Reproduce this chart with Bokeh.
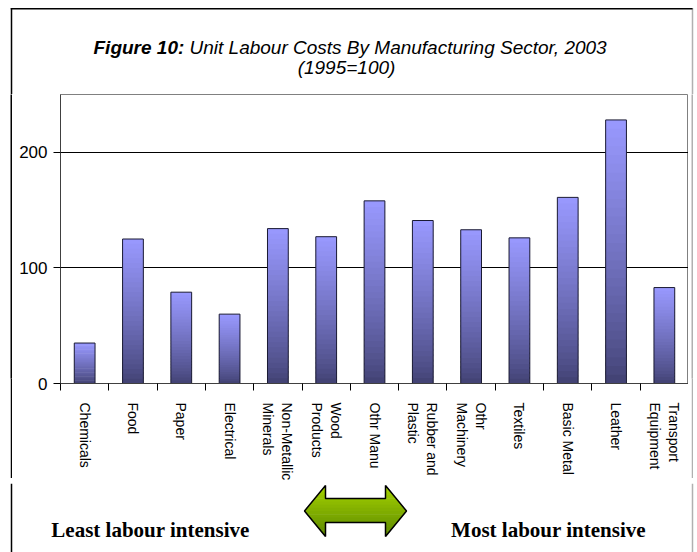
from bokeh.plotting import figure
from bokeh.models import Range1d, FixedTicker, Label
from bokeh.layouts import column, row
from bokeh.embed import file_html
from bokeh.resources import INLINE
import numpy as np

# ---- data ----
categories = ["Chemicals", "Food", "Paper", "Electrical", "Non-Metallic\nMinerals",
              "Wood\nProducts", "Othr Manu", "Rubber and\nPlastic", "Othr\nMachinery",
              "Textiles", "Basic Metal", "Leather", "Transport\nEquipment"]
values = [35, 125, 79, 60, 134, 127, 158, 141, 133, 126, 161, 228, 83]
y_ticks = [0, 100, 200]

title_bold = "Figure 10:"
title_rest = "Unit Labour Costs By Manufacturing Sector, 2003"
subtitle = "(1995=100)"
left_note = "Least labour intensive"
right_note = "Most labour intensive"

SANS = "Liberation Sans"
SERIF = "Liberation Serif"
BORDER = "black"
BORDER_R = "#b0b0b0"

n = len(categories)
centers = [i + 0.5 for i in range(n)]
vals = np.array(values, dtype=float)


def blank(w, h, fill="white"):
    f = figure(width=w, height=h, x_range=Range1d(0, w), y_range=Range1d(h, 0),
               output_backend="svg", toolbar_location=None,
               x_axis_type=None, y_axis_type=None,
               min_border_left=0, min_border_right=0,
               min_border_top=0, min_border_bottom=0)
    f.outline_line_color = None
    f.xgrid.grid_line_color = None
    f.ygrid.grid_line_color = None
    f.background_fill_color = fill
    f.border_fill_color = fill
    return f


def txt(f, x, y, text, align, font, size, style):
    f.add_layout(Label(x=x, y=y, text=text, text_align=align,
                       text_baseline="alphabetic", text_font=font,
                       text_font_size=size, text_font_style=style,
                       text_color="black"))


W = 697
XL, XR = 11, 692      # chart-area border (left, right)
YT = 8.3              # chart-area border (top)
ML = 48               # y-axis panel
FW = 628              # frame width


def vbars(f, h, y0=0):
    f.quad(left=[XL - 0.75], right=[XL + 0.75], top=[y0], bottom=[h],
           fill_color=BORDER, line_color=None)
    f.quad(left=[XR - 0.75], right=[XR + 0.75], top=[y0], bottom=[h],
           fill_color=BORDER_R, line_color=None)


# ---------- title strip ----------
TOP_H = 94
top = blank(W, TOP_H)
txt(top, 93, 47, title_bold, "left", SANS, "19px", "bold italic")
txt(top, 189, 47, title_rest, "left", SANS, "19px", "italic")
txt(top, 346, 67, subtitle, "center", SANS, "19px", "italic")
vbars(top, TOP_H, YT - 0.75)
top.quad(left=[XL - 0.75], right=[XR], top=[YT - 0.75], bottom=[YT + 0.75],
         fill_color=BORDER, line_color=None)

# ---------- main chart ----------
MAIN_H = 384
p = figure(frame_width=FW, frame_height=289,
           x_range=Range1d(0, n), y_range=Range1d(0, 250),
           output_backend="svg", toolbar_location=None,
           min_border_left=ML, min_border_right=0,
           min_border_top=0, min_border_bottom=MAIN_H - 289)
p.outline_line_color = "#808080"
p.background_fill_color = "white"
p.border_fill_color = "white"

p.yaxis.ticker = FixedTicker(ticks=y_ticks)
p.yaxis.major_label_text_font = SANS
p.yaxis.major_label_text_font_size = "17px"
p.yaxis.major_label_text_color = "black"
p.yaxis.major_tick_out = 7
p.yaxis.major_tick_in = 0
p.yaxis.minor_tick_line_color = None
p.yaxis.major_label_standoff = 6
p.yaxis.axis_line_color = "#404040"
p.yaxis.major_tick_line_color = "black"

p.xaxis.ticker = FixedTicker(ticks=centers, minor_ticks=list(range(n + 1)))
p.xaxis.major_label_overrides = {c: lab for c, lab in zip(centers, categories)}
p.xaxis.major_label_orientation = -np.pi / 2
p.xaxis.major_label_text_font = SANS
p.xaxis.major_label_text_font_size = "14px"
p.xaxis.major_label_text_color = "black"
p.xaxis.major_tick_out = 0
p.xaxis.major_tick_in = 0
p.xaxis.minor_tick_out = 7
p.xaxis.minor_tick_in = 0
p.xaxis.minor_tick_line_color = "black"
p.xaxis.major_label_standoff = 12
p.xaxis.axis_line_color = "#404040"

p.xgrid.grid_line_color = None
p.ygrid.grid_line_color = "black"
p.ygrid.grid_line_width = 1

# gradient bars: stacked slices of each bar, dark at bottom to light at top
N = 30
c_top = np.array([0x99, 0x99, 0xFF])
c_bot = np.array([0x40, 0x40, 0x70])
for k in range(N):
    f0 = k / N
    f1 = min((k + 1.4) / N, 1.0)
    t = ((k + 0.5) / N) ** 0.8
    col = c_bot + (c_top - c_bot) * t
    hexc = "#%02x%02x%02x" % tuple(int(round(v)) for v in col)
    p.vbar(x=centers, width=0.43, bottom=vals * f0, top=vals * f1,
           fill_color=hexc, line_color=None)
p.vbar(x=centers, width=0.43, bottom=0, top=vals,
       fill_alpha=0, line_color="#1a1a33", line_width=1)

# side strips of the chart-area border beside the main chart
lpad = blank(10, MAIN_H)
lline = blank(2, MAIN_H, fill=BORDER)
rpad = blank(3, MAIN_H)
rline = blank(2, MAIN_H, fill=BORDER_R)

# ---------- bottom strip: arrow and notes ----------
BOT_H = 552 - TOP_H - MAIN_H
Y0 = TOP_H + MAIN_H
bot = blank(W, BOT_H)
txt(bot, 150, 524 - Y0, left_note, "center", SERIF, "21px", "bold")
txt(bot, 548, 524 - Y0, right_note, "center", SERIF, "21px", "bold")

ax0, ax1, h = 304, 406, 21
ay_top, ay_bot, s_top, s_bot = 480 - Y0, 531 - Y0, 493 - Y0, 517 - Y0
aym = (ay_top + ay_bot) / 2
arrow_x = [ax0, ax0 + h, ax0 + h, ax1 - h, ax1 - h, ax1, ax1 - h, ax1 - h, ax0 + h, ax0 + h]
arrow_y = [aym, ay_top, s_top, s_top, ay_top, aym, ay_bot, s_bot, s_bot, ay_bot]


def clip(xs, ys, ylo, yhi):
    pts = list(zip(xs, ys))

    def cut(pts, inside, yv):
        out = []
        for i in range(len(pts)):
            a, b = pts[i - 1], pts[i]
            ia, ib = inside(a), inside(b)
            if ia != ib:
                out.append((a[0] + (b[0] - a[0]) * (yv - a[1]) / (b[1] - a[1]), yv))
            if ib:
                out.append(b)
        return out
    pts = cut(pts, lambda q: q[1] >= ylo, ylo)
    if pts:
        pts = cut(pts, lambda q: q[1] <= yhi, yhi)
    return [float(q[0]) for q in pts], [float(q[1]) for q in pts]


g_top = np.array([0xA6, 0xD4, 0x00])
g_bot = np.array([0x5C, 0x88, 0x00])
B = 16
bxs, bys, bcols = [], [], []
for k in range(B):
    ylo = ay_top + (ay_bot - ay_top) * k / B
    yhi = ay_top + (ay_bot - ay_top) * (k + 1) / B + 0.6
    cx, cy = clip(arrow_x, arrow_y, ylo, yhi)
    if len(cx) < 3:
        continue
    t = (k + 0.5) / B
    col = g_top + (g_bot - g_top) * t
    bxs.append(cx)
    bys.append(cy)
    bcols.append("#%02x%02x%02x" % tuple(int(round(v)) for v in col))
bot.patches(xs=bxs, ys=bys, fill_color=bcols, line_color=None)
bot.patch(x=arrow_x, y=arrow_y, fill_alpha=0, line_color="black", line_width=1.5)
vbars(bot, BOT_H)

layout = column(top, row(lpad, lline, p, rpad, rline), bot)
open("out.html", "w").write(file_html(layout, INLINE))
